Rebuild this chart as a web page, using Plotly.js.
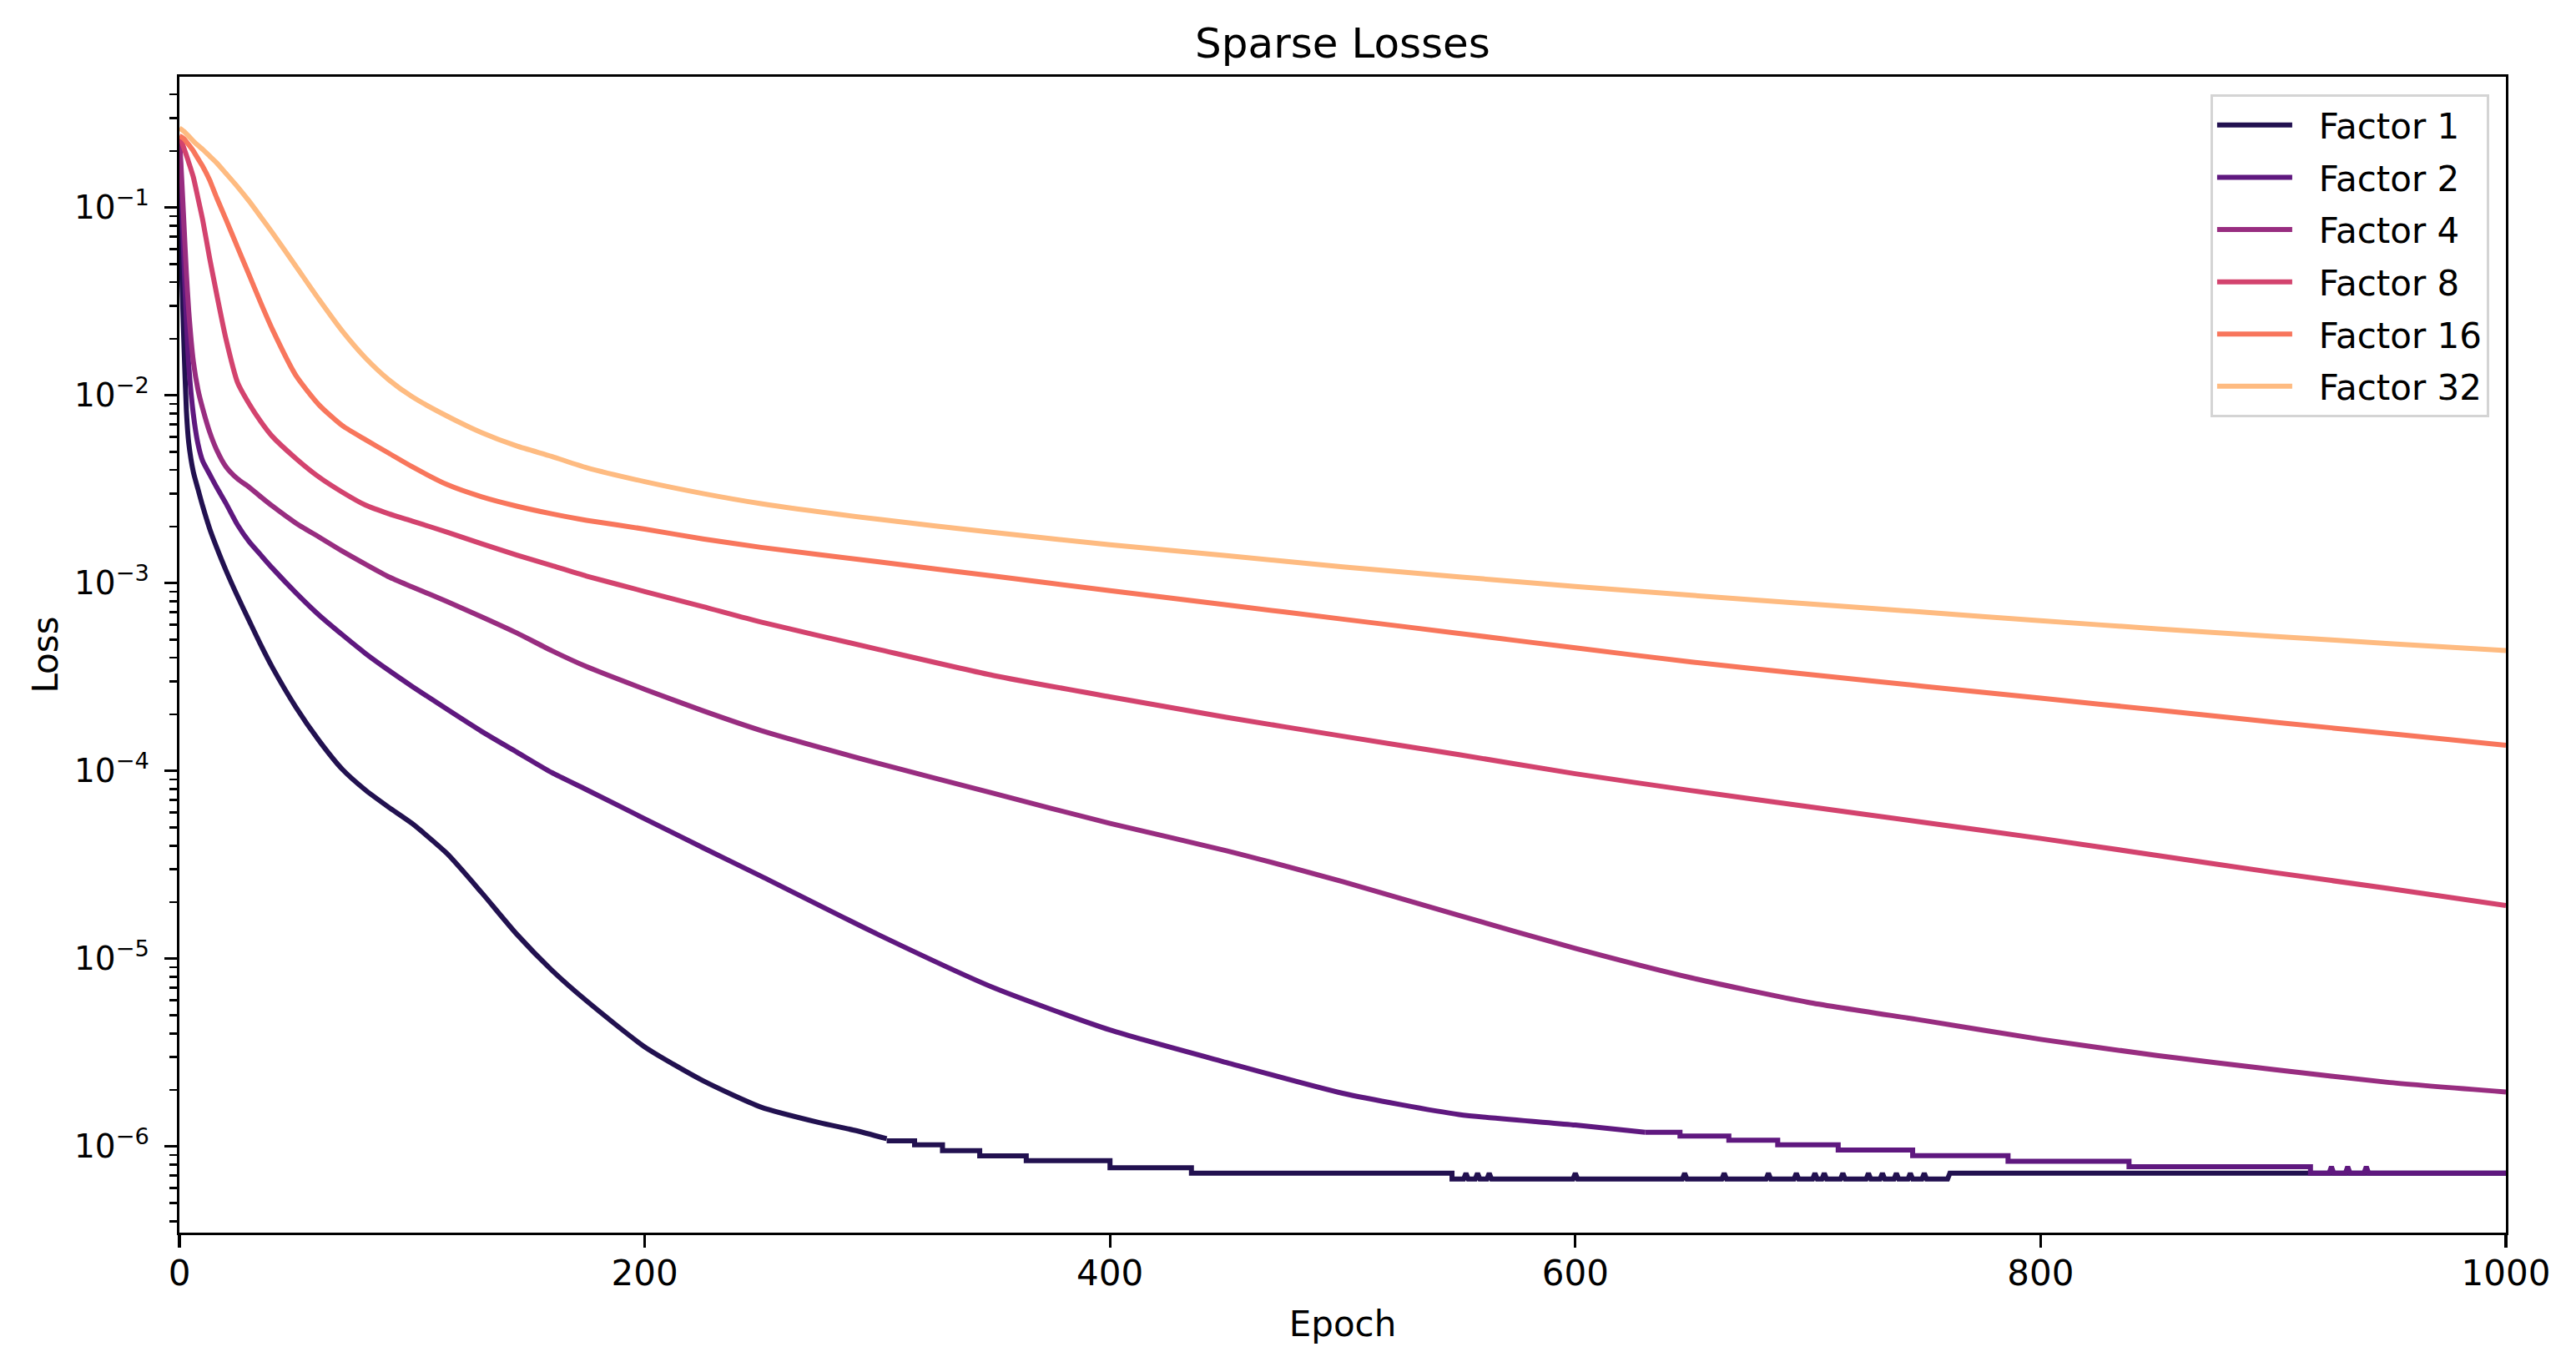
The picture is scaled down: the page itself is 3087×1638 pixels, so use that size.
<!DOCTYPE html>
<html>
<head>
<meta charset="utf-8">
<script src="https://cdn.plot.ly/plotly-3.0.1.min.js"></script>
<style>
html, body { margin: 0; padding: 0; background: #ffffff; }
#chart { width: 3087px; height: 1638px; }
</style>
</head>
<body>
<div id="chart"></div>
<script>
// ---------------- data ----------------
const seriesNames = ["Factor 1", "Factor 2", "Factor 4", "Factor 8", "Factor 16", "Factor 32"];

const epochs = [0,1,2,3,4,6,8,10,13,16,20,25,30,35,40,50,60,70,80,90,100,115,130,145,160,175,200,225,250,300,350,400,450,500,550,600,650,700,750,800,850,900,950,1000];

const lossF32 = [0.265,0.260,0.254,0.247,0.240,0.226,0.214,0.204,0.188,0.173,0.152,0.129,0.108,0.0891,0.0733,0.0488,0.0324,0.0220,0.0158,0.0121,0.00984,0.00776,0.00632,0.00537,0.00473,0.00412,0.00347,0.00300,0.00265,0.00219,0.00186,0.00160,0.00140,0.00122,0.00108,0.00096,0.000861,0.000776,0.000700,0.000631,0.000571,0.000521,0.000476,0.000437];

const lossF16 = [0.240,0.237,0.232,0.224,0.216,0.200,0.182,0.166,0.140,0.113,0.0865,0.0614,0.0437,0.0310,0.0224,0.0128,0.0089,0.00690,0.00580,0.00492,0.00417,0.00335,0.00288,0.00257,0.00234,0.00216,0.00194,0.00172,0.00155,0.00130,0.00109,0.000912,0.000766,0.000643,0.000540,0.000452,0.000380,0.000327,0.000282,0.000244,0.000211,0.000182,0.000158,0.000137];

const lossF8 = [0.240,0.224,0.206,0.190,0.174,0.145,0.112,0.086,0.0537,0.0347,0.0200,0.0117,0.0090,0.00724,0.00603,0.00462,0.00367,0.00305,0.00260,0.00234,0.00214,0.00187,0.00162,0.00141,0.00124,0.00109,0.000902,0.000750,0.000620,0.000445,0.000322,0.000248,0.000193,0.000153,0.000122,0.0000966,0.0000785,0.0000646,0.0000531,0.0000437,0.0000355,0.0000288,0.0000236,0.0000192];

const lossF4 = [0.240,0.141,0.0794,0.0447,0.0282,0.0151,0.0107,0.0085,0.00638,0.00513,0.00417,0.00359,0.00324,0.00288,0.00257,0.00209,0.00176,0.00148,0.00126,0.00108,0.000955,0.000798,0.000661,0.000543,0.000437,0.000359,0.000272,0.000209,0.000164,0.000110,0.0000759,0.0000525,0.0000376,0.0000257,0.0000170,0.00001135,0.0000079,0.00000586,0.00000468,0.00000372,0.00000305,0.00000257,0.00000219,0.00000195];

// Factor 2: smooth part, then the quantised staircase at the end
const epochsF2 = [0,1,2,3,4,6,8,10,13,16,20,25,30,35,40,50,60,70,80,90,100,115,130,145,160,175,200,225,250,300,350,400,450,500,550,600,630];
const lossF2 = [0.240,0.112,0.050,0.025,0.0145,0.0079,0.0055,0.00447,0.0038,0.00324,0.00266,0.00204,0.00166,0.00141,0.00120,0.00089,0.000676,0.000531,0.000422,0.000343,0.000282,0.000213,0.000162,0.000126,0.000098,0.0000794,0.0000556,0.000039,0.0000275,0.0000135,0.00000700,0.00000417,0.00000280,0.00000192,0.00000148,0.00000130,0.00000119];
const stepEpochsF2 = [630,645,645,666,666,687,687,713,713,745,745,786,786,838,838,916,916,924,925,926,931,932,933,939,940,941,1000];
const stepLossF2 = [0.00000119,0.00000119,0.000001135,0.000001135,0.00000108,0.00000108,0.00000102,0.00000102,0.000000957,0.000000957,0.000000894,0.000000894,0.000000834,0.000000834,0.00000078,0.00000078,0.00000072,0.00000072,0.00000078,0.00000072,0.00000072,0.00000078,0.00000072,0.00000072,0.00000078,0.00000072,0.00000072];

// Factor 1: smooth part, then the quantised staircase with its small spikes
const epochsF1 = [0,1,2,3,4,6,8,10,13,16,20,25,30,35,40,50,60,70,80,90,100,115,130,145,160,175,200,225,250,275,290,304];
const lossF1 = [0.240,0.0447,0.0178,0.0083,0.0056,0.0039,0.00316,0.00257,0.00195,0.00155,0.00117,0.00085,0.00063,0.000468,0.000355,0.000219,0.000145,0.000102,0.000079,0.000064,0.0000525,0.0000363,0.0000224,0.0000135,0.0000087,0.00000596,0.00000339,0.00000224,0.00000162,0.00000134,0.00000122,0.00000110];
const stepEpochsF1 = [304,316,316,328,328,344,344,364,364,400,400,435,435,547,547,552,553,554,557,558,559,562,563,564,599,600,601,646,647,648,663,664,665,682,683,684,694,695,696,702,703,704,706,707,708,714,715,716,725,726,727,731,732,733,737,738,739,743,744,745,749,750,751,760,761,1000];
const stepLossF1 = [0.00000107,0.00000107,0.00000102,0.00000102,0.00000095,0.00000095,0.00000089,0.00000089,0.00000084,0.00000084,0.00000077,0.00000077,0.00000072,0.00000072,0.00000067,0.00000067,0.00000072,0.00000067,0.00000067,0.00000072,0.00000067,0.00000067,0.00000072,0.00000067,0.00000067,0.00000072,0.00000067,0.00000067,0.00000072,0.00000067,0.00000067,0.00000072,0.00000067,0.00000067,0.00000072,0.00000067,0.00000067,0.00000072,0.00000067,0.00000067,0.00000072,0.00000067,0.00000067,0.00000072,0.00000067,0.00000067,0.00000072,0.00000067,0.00000067,0.00000072,0.00000067,0.00000067,0.00000072,0.00000067,0.00000067,0.00000072,0.00000067,0.00000067,0.00000072,0.00000067,0.00000067,0.00000072,0.00000067,0.00000067,0.00000072,0.00000072];

const seriesX = [epochsF1, epochsF2, epochs, epochs, epochs, epochs];
const seriesY = [lossF1, lossF2, lossF4, lossF8, lossF16, lossF32];
const stepX = [stepEpochsF1, stepEpochsF2, null, null, null, null];
const stepY = [stepLossF1, stepLossF2, null, null, null, null];
const seriesColors = ["#221150", "#5f187f", "#982d80", "#d3436e", "#f8765c", "#febb81"];

const xTicks = [0, 200, 400, 600, 800, 1000];
const yTickVals = [1e-1, 1e-2, 1e-3, 1e-4, 1e-5, 1e-6];
const yTickText = ["10<sup>\u22121</sup>", "10<sup>\u22122</sup>", "10<sup>\u22123</sup>", "10<sup>\u22124</sup>", "10<sup>\u22125</sup>", "10<sup>\u22126</sup>"];

// ---------------- chart ----------------
const minorVals = [];
for (let k = -7; k <= -1; k++) {
  for (let m = 2; m <= 9; m++) minorVals.push(m * Math.pow(10, k));
}

const traces = [];
seriesNames.forEach((name, i) => {
  traces.push({
    type: "scatter",
    mode: "lines",
    name: "\u00a0\u00a0" + name,
    x: seriesX[i],
    y: seriesY[i],
    line: { color: seriesColors[i], width: 6, shape: "spline", smoothing: 0.6 },
    legendgroup: "g" + i
  });
  if (stepX[i]) {
    traces.push({
      type: "scatter",
      mode: "lines",
      name: name,
      x: stepX[i],
      y: stepY[i],
      line: { color: seriesColors[i], width: 6, shape: "linear" },
      legendgroup: "g" + i,
      showlegend: false
    });
  }
});

const font = "DejaVu Sans, Arial, sans-serif";

const layout = {
  width: 3087,
  height: 1638,
  margin: { l: 215, r: 84, t: 92, b: 161, pad: 0 },
  paper_bgcolor: "#ffffff",
  plot_bgcolor: "#ffffff",
  font: { family: font, size: 42, color: "#000000" },
  title: {
    text: "Sparse Losses",
    font: { family: font, size: 50, color: "#000000" },
    x: 0.5, xref: "paper", xanchor: "center",
    y: 1 - 51 / 1638, yref: "container", yanchor: "middle"
  },
  showlegend: true,
  legend: {
    x: 0.9928, xanchor: "right",
    y: 0.9848, yanchor: "top",
    bgcolor: "rgba(255,255,255,0.85)",
    bordercolor: "#d4d4d4",
    borderwidth: 3,
    font: { family: font, size: 42, color: "#000000" },
    itemwidth: 90,
    tracegroupgap: 5
  },
  xaxis: {
    range: [0, 1000],
    tickmode: "array",
    tickvals: xTicks,
    ticktext: xTicks.map(String),
    ticks: "outside",
    ticklen: 15,
    tickwidth: 3.3,
    tickcolor: "#000000",
    ticklabelstandoff: -6,
    showline: true,
    linecolor: "#000000",
    linewidth: 3.3,
    mirror: true,
    showgrid: false,
    zeroline: false,
    tickfont: { family: font, size: 42, color: "#000000" },
    title: { text: "Epoch", font: { family: font, size: 42, color: "#000000" }, standoff: 24 }
  },
  yaxis: {
    type: "log",
    range: [-6.459, -0.3036],
    tickmode: "array",
    tickvals: yTickVals,
    ticktext: yTickText,
    ticks: "outside",
    ticklen: 15,
    tickwidth: 3.3,
    tickcolor: "#000000",
    ticklabelstandoff: 10,
    minor: {
      tickmode: "array",
      tickvals: minorVals,
      ticks: "outside",
      ticklen: 8.5,
      tickwidth: 2.5,
      tickcolor: "#000000",
      showgrid: false
    },
    showline: true,
    linecolor: "#000000",
    linewidth: 3.3,
    mirror: true,
    showgrid: false,
    zeroline: false,
    tickfont: { family: font, size: 39, color: "#000000" },
    title: { text: "Loss", font: { family: font, size: 42, color: "#000000" }, standoff: 7 }
  }
};

Plotly.newPlot("chart", traces, layout, { staticPlot: true, displayModeBar: false });
</script>
</body>
</html>
